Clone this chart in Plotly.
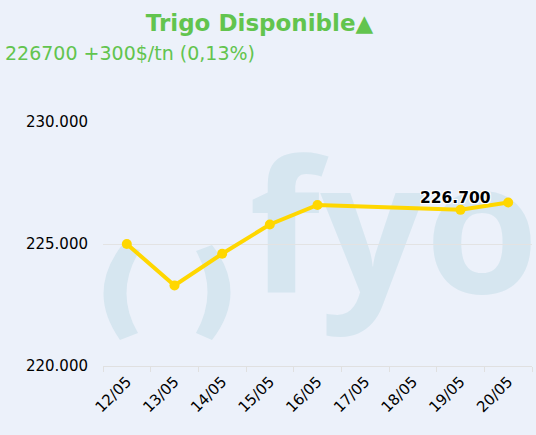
import plotly.graph_objects as go

# ---- data ----
categories = ["12/05", "13/05", "14/05", "15/05", "16/05", "17/05", "18/05", "19/05", "20/05"]
dates = ["12/05", "13/05", "14/05", "15/05", "16/05", "19/05", "20/05"]
prices = [225000, 223300, 224600, 225800, 226600, 226400, 226700]
y_ticks = [220000, 225000, 230000]
title_text = "<b>Trigo Disponible▲</b>"
subtitle_text = "226700 +300$/tn (0,13%)"
last_label = "226.700"

W, H = 536, 435
L, R, T, B = 103, 4, 122, 69
PW, PH = W - L - R, H - T - B

def px(x):
    return (x - L) / PW

def py(y):
    return (H - B - y) / PH

BG = "#ecf1fa"
GREEN = "#62c44e"
WM = "#d6e6f0"
LINE = "#ffd700"

fig = go.Figure()
fig.add_trace(go.Scatter(
    x=dates, y=prices, mode="lines+markers",
    line=dict(color=LINE, width=4),
    marker=dict(color=LINE, size=10),
    hoverinfo="skip",
))

left_paren = (
    f"M {px(122)},{py(245)} Q {px(86)},{py(292)} {px(120)},{py(340)} "
    f"L {px(138)},{py(333)} Q {px(114)},{py(292)} {px(140)},{py(250)} Z"
)
right_paren = (
    f"M {px(212)},{py(245)} Q {px(249)},{py(292)} {px(212)},{py(340)} "
    f"L {px(196)},{py(333)} Q {px(219)},{py(292)} {px(196)},{py(251)} Z"
)

shapes = [
    dict(type="path", path=left_paren, xref="paper", yref="paper",
         fillcolor=WM, line=dict(width=0), layer="below"),
    dict(type="path", path=right_paren, xref="paper", yref="paper",
         fillcolor=WM, line=dict(width=0), layer="below"),
    dict(type="rect", xref="paper", yref="paper",
         x0=px(254), x1=px(534), y0=py(332), y1=py(137),
         line=dict(width=0), fillcolor="rgba(0,0,0,0)", layer="below",
         label=dict(text="<b>fyo</b>", textposition="middle center",
                    font=dict(family="Open Sans", size=184, color=WM))),
]

fig.update_layout(
    width=W, height=H,
    margin=dict(l=L, r=R, t=T, b=B, pad=0),
    paper_bgcolor=BG, plot_bgcolor=BG,
    showlegend=False,
    separators=",.",
    font=dict(family="DejaVu Sans", color="#000000"),
    title=dict(text=title_text, x=259.5 / W, xref="container", xanchor="center",
               y=1 - 23 / H, yref="container", yanchor="middle",
               font=dict(family="DejaVu Sans", size=23, color=GREEN)),
    shapes=shapes,
    xaxis=dict(
        type="category", categoryorder="array", categoryarray=categories,
        range=[-0.5, len(categories) - 0.5],
        tickangle=-45, tickfont=dict(size=15, color="#000000"),
        showgrid=False, showline=True, linecolor="#e0e0e0", linewidth=1,
        ticks="outside", tickson="boundaries", ticklen=5, tickcolor="#e0e0e0",
        zeroline=False, fixedrange=True,
    ),
    yaxis=dict(
        range=[220000, 230000], tickvals=y_ticks, tickformat=",d",
        tickfont=dict(size=15, color="#000000"),
        showgrid=True, gridcolor="#e3e3e3", gridwidth=1,
        showline=False, zeroline=False, ticks="", ticklabelstandoff=14,
        fixedrange=True,
    ),
    annotations=[
        dict(text=subtitle_text, xref="paper", yref="paper",
             x=px(3), y=py(53), xanchor="left", yanchor="middle",
             showarrow=False,
             font=dict(family="DejaVu Sans", size=19, color=GREEN)),
        dict(text=f"<b>{last_label}</b>", x=dates[-1], y=prices[-1],
             xref="x", yref="y", xanchor="right", yanchor="bottom",
             xshift=-15, yshift=-6, showarrow=False,
             font=dict(family="DejaVu Sans", size=15.5, color="#000000",
                       shadow="-1px -1px 0 #fff, 1px -1px 0 #fff, -1px 1px 0 #fff, 1px 1px 0 #fff")),
    ],
)

fig.write_html("out.html", config={"displayModeBar": False},
               post_script="document.body.style.margin='0';document.body.style.overflow='hidden';")
